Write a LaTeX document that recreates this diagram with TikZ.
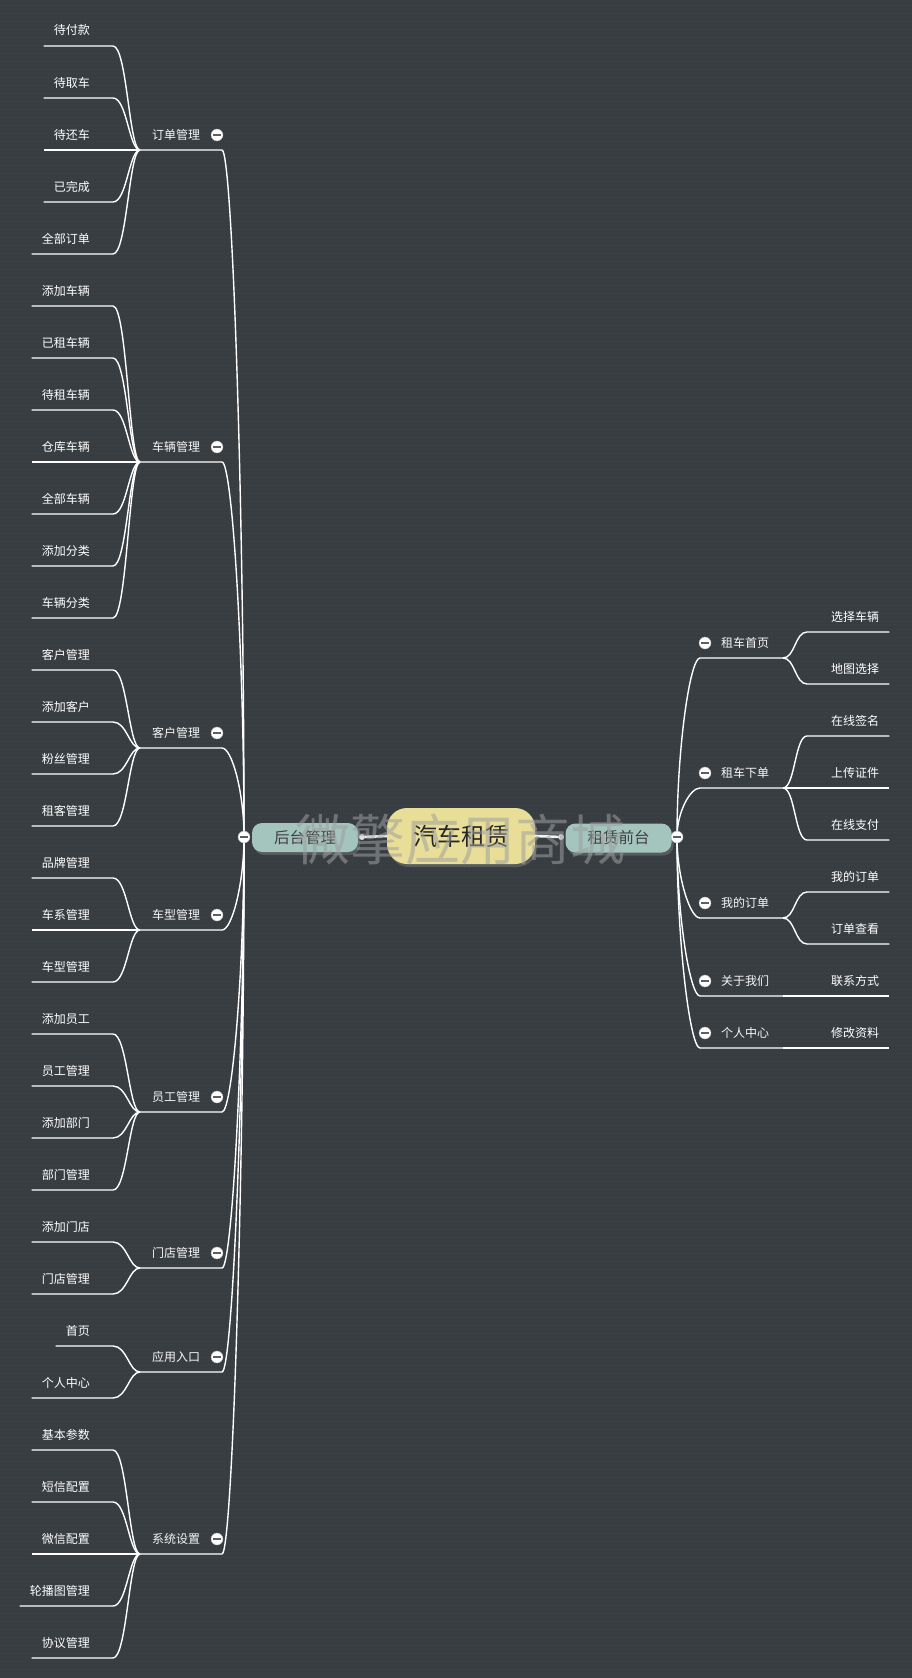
\documentclass[tikz,border=0pt]{standalone}
\usepackage{fontspec}
\setmainfont{Noto Sans CJK SC}
\usepackage{xcolor}
\usepackage{tikz}
\usetikzlibrary{calc, shadows, patterns.meta}

\definecolor{bg}{RGB}{56,62,66}
\definecolor{bgdot}{RGB}{46,51,55}
\definecolor{rootfill}{RGB}{232,222,152}
\definecolor{subfill}{RGB}{164,196,190}
\definecolor{foldgray}{RGB}{95,95,95}

\tikzset{
	link/.style={white, line width=1.4pt},
	leaf/.style={text=white, font=\fontsize{12}{14}\selectfont, text height=10pt, text depth=2pt, inner xsep=10pt, inner ysep=0pt},
	branch/.style={leaf, text=white!94!gray},
	fold/.style={circle, fill=white, draw=gray!60, line width=.4pt, minimum size=12pt, inner sep=0pt,
		path picture={\draw[foldgray, line width=1.6pt] ([xshift=-3.6pt]path picture bounding box.center) -- ([xshift=3.6pt]path picture bounding box.center);}},
	root/.style={fill=rootfill, rounded corners=20pt, minimum width=148pt, minimum height=56pt, inner sep=0pt,
		font=\fontsize{24}{28}\selectfont, text=black!85, drop shadow={shadow xshift=2pt, shadow yshift=-3pt, opacity=.45}},
	sub/.style={fill=subfill, rounded corners=10pt, minimum width=106pt, minimum height=29pt, inner sep=0pt,
		font=\fontsize{15.5}{18}\selectfont, text=black!75, drop shadow={shadow xshift=2pt, shadow yshift=-3pt, opacity=.45}},
	dot/.style={circle, fill=gray!25, minimum size=6pt, inner sep=0pt},
	stem/.style={white!90!gray, line width=2.6pt},
	wmark/.style={font=\fontsize{55}{60}\selectfont, text=gray!75, text opacity=.55}
}

\begin{document}
\begin{tikzpicture}[x=1pt, y=-1pt]
	\def\W{912};
	\def\H{1678};
	\def\gap{52};

	\fill[bg] (0,0) rectangle (\W,\H);
	\fill[pattern={Dots[distance=4pt, radius=.55pt]}, pattern color=bgdot] (0,0) rectangle (\W,\H);
	\useasboundingbox (0,0) rectangle (\W,\H);

	\coordinate (Lt) at (244,837);
	\coordinate (Rt) at (677,837);

	% back office
	\begin{scope}
		\foreach \g/\lab/\hy/\fy/\kids in {%
			1/订单管理/150/46/{待付款,待取车,待还车,已完成,全部订单},
			2/车辆管理/462/306/{添加车辆,已租车辆,待租车辆,仓库车辆,全部车辆,添加分类,车辆分类},
			3/客户管理/748/670/{客户管理,添加客户,粉丝管理,租客管理},
			4/车型管理/930/878/{品牌管理,车系管理,车型管理},
			5/员工管理/1112/1034/{添加员工,员工管理,添加部门,部门管理},
			6/门店管理/1268/1242/{添加门店,门店管理},
			7/应用入口/1372/1346/{首页,个人中心},
			8/系统设置/1554/1450/{基本参数,短信配置,微信配置,轮播图管理,协议管理}}
		{
			\node[branch] (L\g) at (176,\hy-15) {\lab};
			\node[fold] (L\g-f) at (217,\hy-15) {};
			\coordinate (L\g-h) at (140,\hy);
			\coordinate (L\g-e) at (222,\hy);
			\draw[link] (L\g-h) -- (L\g-e) .. controls +(10,0) and ($(Lt)!.5!(Lt|-L\g-e)$) .. (Lt);
			\foreach \kid [count=\n] in \kids
			{
				\pgfmathsetmacro\cy{\fy+\gap*(\n-1)}
				\node[leaf, anchor=east] (L\g-\n) at (100,\cy-15) {\kid};
				\coordinate (L\g-\n-e) at (113,\cy);
				\draw[link] (L\g-\n.west |- L\g-\n-e) -- (L\g-\n-e) .. controls +(14,0) and +(-11,0) .. (L\g-h);
			}
		}
	\end{scope}

	% front desk
	\begin{scope}
		\foreach \g/\lab/\hy/\fy/\kids in {%
			1/租车首页/658/632/{选择车辆,地图选择},
			2/租车下单/788/736/{在线签名,上传证件,在线支付},
			3/我的订单/918/892/{我的订单,订单查看},
			4/关于我们/996/996/{联系方式},
			5/个人中心/1048/1048/{修改资料}}
		{
			\node[branch] (R\g) at (745,\hy-15) {\lab};
			\node[fold] (R\g-f) at (705,\hy-15) {};
			\coordinate (R\g-s) at (700,\hy);
			\coordinate (R\g-h) at (783,\hy);
			\draw[link] (Rt) .. controls ($(Rt)!.5!(Rt|-R\g-s)$) and +(-10,0) .. (R\g-s) -- (R\g-h);
			\foreach \kid [count=\n] in \kids
			{
				\pgfmathsetmacro\cy{\fy+\gap*(\n-1)}
				\node[leaf, anchor=west] (R\g-\n) at (821,\cy-15) {\kid};
				\coordinate (R\g-\n-s) at (807,\cy);
				\draw[link] (R\g-h) .. controls +(12,0) and +(-12,0) .. (R\g-\n-s) -- (R\g-\n.east |- R\g-\n-s);
			}
		}
	\end{scope}

	\node[root] (root) at (461,836) {汽车租赁};
	\node[sub] (back) at (305,837.5) {后台管理};
	\node[sub] (front) at (618.5,838) {租赁前台};
	\node[dot] (back-d) at (362,837) {};
	\node[dot] (front-d) at (561,837) {};
	\draw[stem] (root.west) -- (back-d);
	\draw[stem] (root.east) -- (front-d);
	\node[fold] (Lt-f) at (Lt) {};
	\node[fold] (Rt-f) at (Rt) {};

	\node[wmark] (wm) at (460,840) {微擎应用商城};
\end{tikzpicture}
\end{document}
